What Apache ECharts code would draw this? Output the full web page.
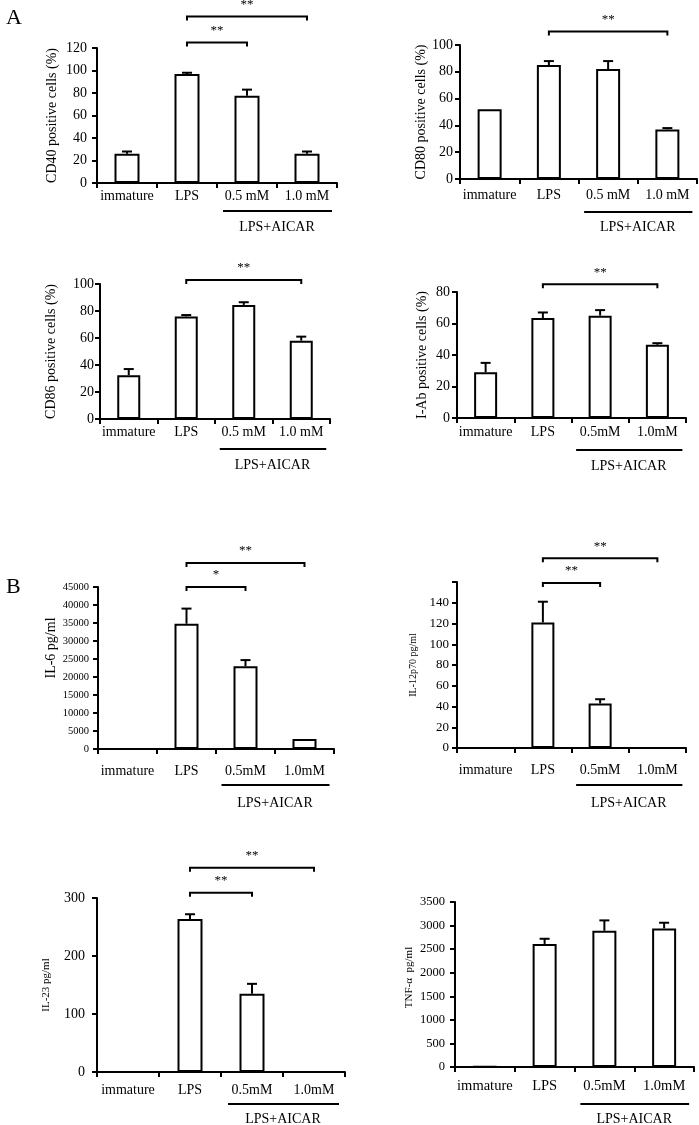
<!DOCTYPE html>
<html><head><meta charset="utf-8">
<script src="https://cdn.jsdelivr.net/npm/echarts@6/dist/echarts.min.js"></script>
<style>html,body{margin:0;padding:0;background:#fff}#c{width:699px;height:1125px}</style>
</head><body><div id="c"></div>
<script>
// ---------- data ----------
const catsA = ['immature', 'LPS', '0.5 mM', '1.0 mM'];
const catsA2 = ['immature', 'LPS', '0.5mM', '1.0mM'];
const catsB = ['immature', 'LPS', '0.5mM', '1.0mM'];
const groupLabel = 'LPS+AICAR';

const cd40Mean = [26, 97, 77.5, 26];
const cd40Sd = [2, 1, 5.5, 2];
const cd40Sig = [[1, 2, 125, '**'], [1, 3, 148, '**']];

const cd80Mean = [52, 85, 82, 37];
const cd80Sd = [0, 3, 6, 1];
const cd80Sig = [[1, 3, 110, '**']];

const cd86Mean = [32.5, 76, 84.5, 58];
const cd86Sd = [4.5, 1, 2, 3];
const cd86Sig = [[1, 3, 103, '**']];

const iabMean = [29, 63.5, 65, 46.5];
const iabSd = [6, 3.5, 3.5, 1];
const iabSig = [[1, 3, 85, '**']];

const il6Mean = [0, 34800, 23000, 2800];
const il6Sd = [0, 4200, 1700, 0];
const il6Sig = [[1, 2, 45000, '*'], [1, 3, 51700, '**']];

const il12Mean = [0, 121, 43, 0];
const il12Sd = [0, 20, 4, 0];
const il12Sig = [[1, 2, 159, '**'], [1, 3, 183, '**']];

const il23Mean = [0, 264, 135, 0];
const il23Sd = [0, 8, 17, 0];
const il23Sig = [[1, 2, 309, '**'], [1, 3, 352, '**']];

const tnfMean = [8, 2610, 2890, 2940];
const tnfSd = [0, 110, 220, 120];
const tnfSig = [];

const yMax = [120, 100, 100, 80, 45000, 160, 300, 3500];
const yInterval = [20, 20, 20, 20, 5000, 20, 100, 500];
const yNames = ['CD40 positive cells (%)', 'CD80 positive cells (%)', 'CD86 positive cells (%)', 'I-Ab positive cells (%)',
  'IL-6 pg/ml', 'IL-12p70 pg/ml', 'IL-23 pg/ml', 'TNF-\u03b1  pg/ml'];

// ---------- layout / style ----------
const FONT = '"Liberation Serif", "Times New Roman", serif';
const panels = [
  {cats: catsA, mean: cd40Mean, sd: cd40Sd, sig: cd40Sig, grid: {left: 97, top: 48, width: 240, height: 135}, tick: 14, nameFont: 14, nameGap: 38, namePad: 0, xFont: 14, xMargin: 6, yMargin: 10, bw: 25, gl: 28, gt: 44},
  {cats: catsA, mean: cd80Mean, sd: cd80Sd, sig: cd80Sig, grid: {left: 460, top: 45, width: 237, height: 134}, tick: 14, nameFont: 14, nameGap: 32, namePad: 0, xFont: 14, xMargin: 9, yMargin: 7, bw: 24, gl: 33, gt: 48},
  {cats: catsA, mean: cd86Mean, sd: cd86Sd, sig: cd86Sig, grid: {left: 100, top: 284, width: 230, height: 135}, tick: 14, nameFont: 14, nameGap: 42, namePad: 0, xFont: 14, xMargin: 6, yMargin: 6, bw: 23, gl: 30, gt: 46},
  {cats: catsA2, mean: iabMean, sd: iabSd, sig: iabSig, grid: {left: 457, top: 292, width: 229, height: 126}, tick: 14, nameFont: 14, nameGap: 28, namePad: 0, xFont: 14, xMargin: 7, yMargin: 7, bw: 23, gl: 32, gt: 48},
  {cats: catsB, mean: il6Mean, sd: il6Sd, sig: il6Sig, grid: {left: 98, top: 587, width: 236, height: 162}, tick: 10.5, nameFont: 14, nameGap: 40, namePad: 40, xFont: 14, xMargin: 15, yMargin: 9, bw: 24, gl: 36, gt: 54},
  {cats: catsB, mean: il12Mean, sd: il12Sd, sig: il12Sig, grid: {left: 457, top: 582, width: 229, height: 166}, tick: 13, nameFont: 10, nameGap: 39, namePad: 0, xFont: 14, xMargin: 15, yMargin: 8, bw: 23, gl: 37, gt: 55},
  {cats: catsB, mean: il23Mean, sd: il23Sd, sig: il23Sig, grid: {left: 97, top: 898, width: 248, height: 174}, tick: 14, nameFont: 11, nameGap: 45, namePad: 0, xFont: 14, xMargin: 11, yMargin: 12, bw: 25, gl: 32, gt: 47},
  {cats: catsB, mean: tnfMean, sd: tnfSd, sig: tnfSig, grid: {left: 455, top: 902, width: 239, height: 165}, tick: 12.5, nameFont: 11, nameGap: 40, namePad: 14, xFont: 14.5, xMargin: 12, yMargin: 10, bw: 24, gl: 37, gt: 52}
];

const grids = [], xAxes = [], yAxes = [], series = [];
panels.forEach((p, i) => {
  grids.push(Object.assign({containLabel: false}, p.grid));
  xAxes.push({
    type: 'category', gridIndex: i, data: p.cats, boundaryGap: true,
    axisLine: {show: true, lineStyle: {color: '#000', width: 2}},
    axisTick: {show: true, length: 5, lineStyle: {color: '#000', width: 2}},
    axisLabel: {color: '#000', fontFamily: FONT, fontSize: p.xFont, margin: p.xMargin, interval: 0},
    splitLine: {show: false}
  });
  const mx = yMax[i];
  yAxes.push({
    type: 'value', gridIndex: i, min: 0, max: mx, interval: yInterval[i],
    name: yNames[i], nameLocation: 'middle', nameGap: p.nameGap,
    nameTextStyle: {color: '#000', fontFamily: FONT, fontSize: p.nameFont, padding: [0, 0, 0, p.namePad]},
    axisLine: {show: true, lineStyle: {color: '#000', width: 2}},
    axisTick: {show: true, length: 5, lineStyle: {color: '#000', width: 2}},
    axisLabel: {color: '#000', fontFamily: FONT, fontSize: p.tick, margin: p.yMargin,
      formatter: v => (i === 5 && v === 160) ? '' : String(v)},
    splitLine: {show: false}
  });
  series.push({
    type: 'bar', xAxisIndex: i, yAxisIndex: i, data: p.mean, barWidth: p.bw,
    itemStyle: {color: '#fff', borderColor: '#000', borderWidth: 2},
    silent: true, animation: false
  });
  series.push({
    type: 'custom', xAxisIndex: i, yAxisIndex: i, animation: false, silent: true,
    data: p.mean.map((m, k) => [k, m, p.sd[k]]),
    encode: {x: 0, y: 1},
    renderItem: (params, api) => {
      const k = api.value(0), m = api.value(1), s = api.value(2);
      if (!(s > 0)) return null;
      const b = api.coord([k, m]), t = api.coord([k, m + s]);
      return {type: 'group', children: [
        {type: 'line', shape: {x1: b[0], y1: b[1], x2: t[0], y2: t[1]}, style: {stroke: '#000', lineWidth: 2}},
        {type: 'line', shape: {x1: t[0] - 5, y1: t[1], x2: t[0] + 5, y2: t[1]}, style: {stroke: '#000', lineWidth: 2}}
      ]};
    }
  });
  if (p.sig.length) {
    series.push({
      type: 'custom', xAxisIndex: i, yAxisIndex: i, animation: false, silent: true, clip: false,
      data: p.sig.map(s => [s[0], s[1], s[2]]),
      encode: {x: 0, y: 2},
      renderItem: (params, api) => {
        const a = api.coord([api.value(0), api.value(2)]);
        const b = api.coord([api.value(1), api.value(2)]);
        const lab = p.sig[params.dataIndex][3];
        return {type: 'group', children: [
          {type: 'polyline', shape: {points: [[a[0], a[1] + 4], [a[0], a[1]], [b[0], b[1]], [b[0], b[1] + 4]]},
            style: {stroke: '#000', lineWidth: 2, fill: null}},
          {type: 'text', style: {text: lab, x: (a[0] + b[0]) / 2, y: a[1] - 12, align: 'center', verticalAlign: 'middle',
            textAlign: 'center', textVerticalAlign: 'middle', font: '13px ' + FONT, fill: '#000'}}
        ]};
      }
    });
  }
  series.push({
    type: 'custom', xAxisIndex: i, yAxisIndex: i, animation: false, silent: true, clip: false,
    data: [[2, 3]],
    encode: {x: 0},
    renderItem: (params, api) => {
      const a = api.coord([api.value(0), 0]);
      const b = api.coord([api.value(1), 0]);
      const y = a[1] + p.gl;
      return {type: 'group', children: [
        {type: 'line', shape: {x1: a[0] - 24, y1: y, x2: b[0] + 25, y2: y}, style: {stroke: '#000', lineWidth: 2}},
        {type: 'text', style: {text: groupLabel, x: (a[0] + b[0]) / 2, y: a[1] + p.gt, align: 'center', verticalAlign: 'middle',
          textAlign: 'center', textVerticalAlign: 'middle', font: '14px ' + FONT, fill: '#000'}}
      ]};
    }
  });
});

const chart = echarts.init(document.getElementById('c'), null, {renderer: 'canvas'});
chart.setOption({
  backgroundColor: '#fff',
  animation: false,
  title: [
    {text: 'A', left: 1, top: 2, textStyle: {fontFamily: FONT, fontSize: 22, fontWeight: 'normal', color: '#000'}},
    {text: 'B', left: 1, top: 571, textStyle: {fontFamily: FONT, fontSize: 22, fontWeight: 'normal', color: '#000'}}
  ],
  grid: grids, xAxis: xAxes, yAxis: yAxes, series: series
});
</script></body></html>
